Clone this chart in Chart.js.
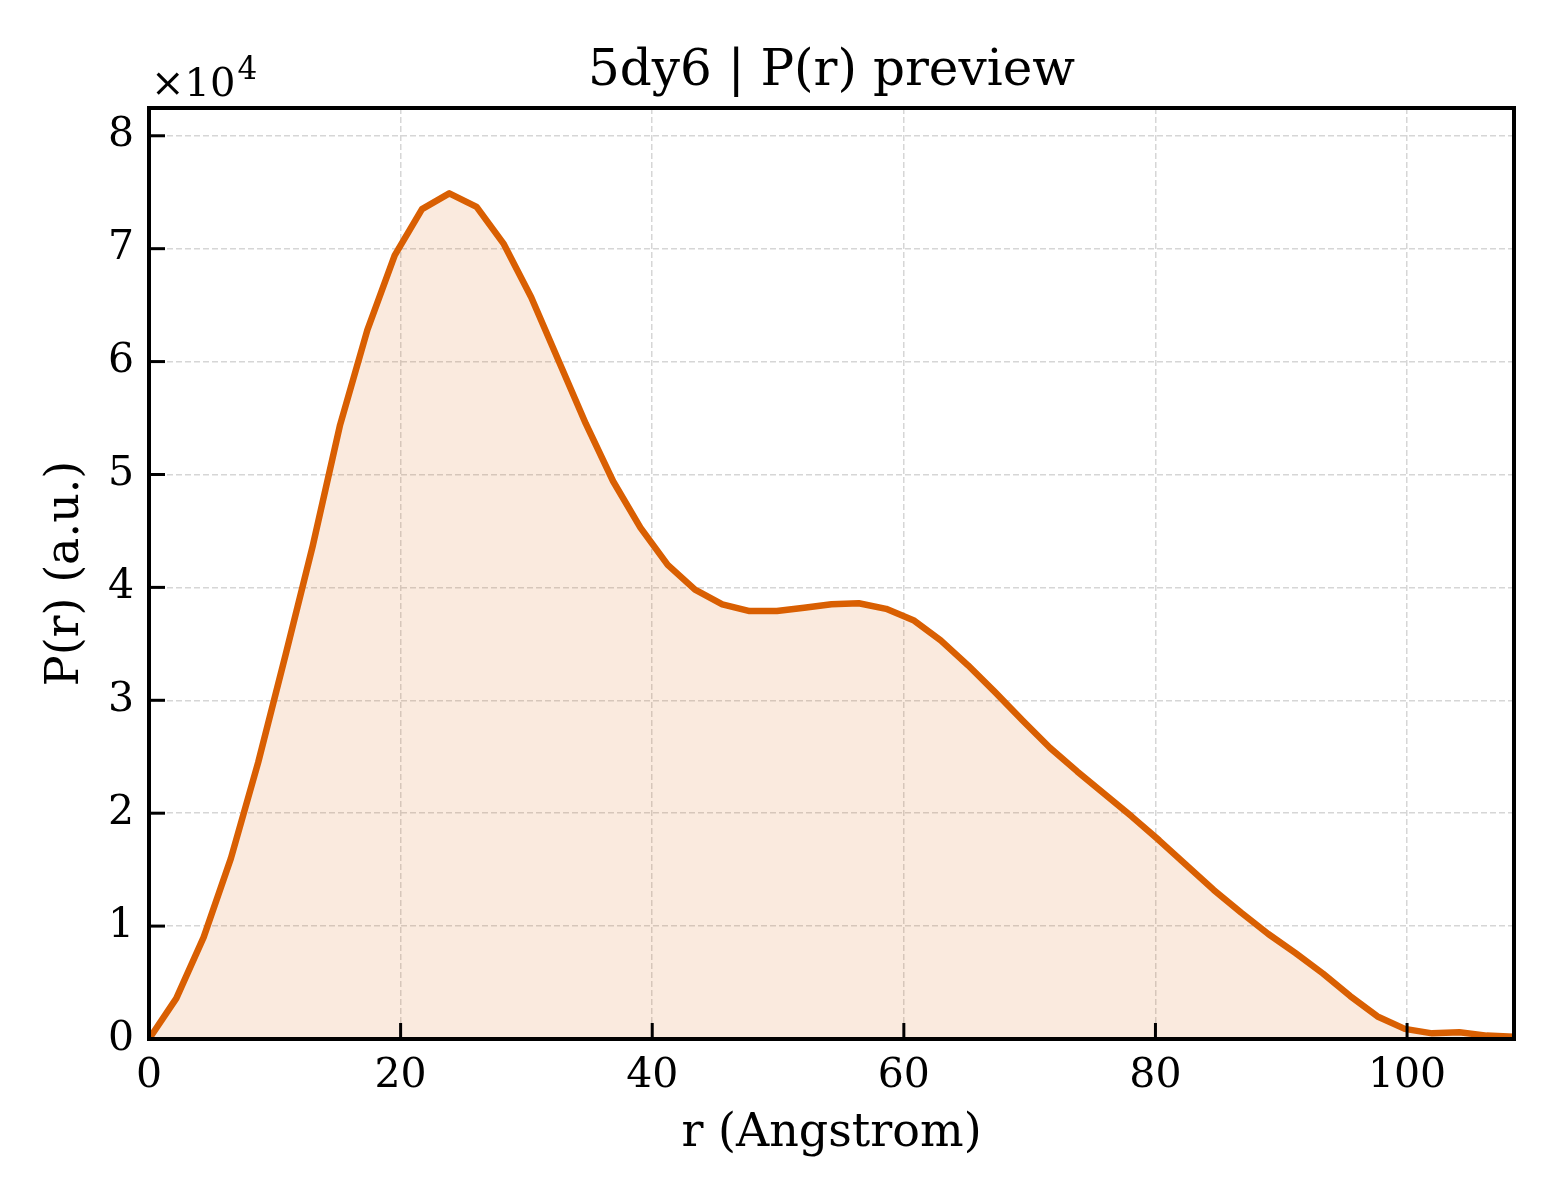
<!DOCTYPE html>
<html lang="en">
<head>
    <meta charset="UTF-8">
    <title>5dy6 | P(r) preview</title>
    <script src="https://cdn.jsdelivr.net/npm/chart.js"></script>
    <style>
        body {
            margin: 0;
            background-color: #ffffff;
        }
        #prChart {
            display: block;
        }
    </style>
</head>
<body>
    <canvas id="prChart" width="1560" height="1200"></canvas>

    <script>
        // r values (Angstrom) and P(r)
        const rValues = [
            0.00, 2.17, 4.34, 6.51, 8.68, 10.85, 13.02, 15.19, 17.36, 19.53,
            21.70, 23.87, 26.04, 28.21, 30.38, 32.55, 34.72, 36.89, 39.06, 41.23,
            43.40, 45.57, 47.74, 49.91, 52.08, 54.25, 56.42, 58.59, 60.76, 62.93,
            65.10, 67.27, 69.44, 71.61, 73.78, 75.95, 78.12, 80.29, 82.46, 84.63,
            86.80, 88.97, 91.14, 93.31, 95.48, 97.65, 99.82, 101.99, 104.16, 106.33,
            108.50
        ];
        const prValues = [
            0, 3600, 9000, 16000, 24500, 34000, 43700, 54400, 62800, 69400,
            73500, 74900, 73700, 70400, 65700, 60100, 54500, 49400, 45300, 42000,
            39800, 38500, 37900, 37900, 38200, 38500, 38600, 38100, 37100, 35300,
            33100, 30700, 28200, 25800, 23700, 21700, 19700, 17600, 15400, 13200,
            11200, 9300, 7600, 5800, 3800, 2000, 900, 500, 600, 300,
            200
        ];
        const xTicks = [0, 20, 40, 60, 80, 100];
        const yTicks = [0, 10000, 20000, 30000, 40000, 50000, 60000, 70000, 80000];
        const chartTitle = '5dy6 | P(r) preview';

        const serif = "'DejaVu Serif', serif";
        const lineColor = '#d95f02';

        // title over the plot area, frame, inward tick marks and the x10^4 offset label
        const framePlugin = {
            id: 'frame',
            afterDraw(chart) {
                const ctx = chart.ctx;
                const area = chart.chartArea;
                const xs = chart.scales.x;
                const ys = chart.scales.y;
                ctx.save();
                ctx.strokeStyle = '#000000';
                ctx.lineWidth = 3;
                xTicks.forEach(v => {
                    const px = xs.getPixelForValue(v);
                    ctx.beginPath();
                    ctx.moveTo(px, area.bottom);
                    ctx.lineTo(px, area.bottom - 16);
                    ctx.stroke();
                });
                yTicks.forEach(v => {
                    const py = ys.getPixelForValue(v);
                    ctx.beginPath();
                    ctx.moveTo(area.left, py);
                    ctx.lineTo(area.left + 16, py);
                    ctx.stroke();
                });
                ctx.lineWidth = 4;
                ctx.strokeRect(area.left, area.top, area.right - area.left, area.bottom - area.top);

                ctx.fillStyle = '#000000';
                ctx.textBaseline = 'alphabetic';
                ctx.textAlign = 'center';
                ctx.font = '50px ' + serif;
                ctx.fillText(chartTitle, (area.left + area.right) / 2, 85);

                ctx.textAlign = 'left';
                ctx.font = '40px ' + serif;
                ctx.fillText('\u00d710', area.left + 2, 96);
                const w = ctx.measureText('\u00d710').width;
                ctx.font = '31px ' + serif;
                ctx.fillText('4', area.left + 4 + w, 79);
                ctx.restore();
            }
        };

        const points = rValues.map((r, i) => ({ x: r, y: prValues[i] }));

        new Chart(document.getElementById('prChart').getContext('2d'), {
            type: 'line',
            data: {
                datasets: [{
                    label: 'P(r)',
                    data: points,
                    borderColor: lineColor,
                    backgroundColor: 'rgba(217, 95, 2, 0.13)',
                    borderWidth: 6.5,
                    borderJoinStyle: 'round',
                    pointRadius: 0,
                    fill: 'origin',
                    tension: 0
                }]
            },
            options: {
                responsive: false,
                animation: false,
                devicePixelRatio: 1,
                layout: {
                    padding: { left: 0, right: 46, top: 108, bottom: 0 }
                },
                plugins: {
                    legend: { display: false },
                    tooltip: { enabled: false },
                    title: { display: false }
                },
                scales: {
                    x: {
                        type: 'linear',
                        min: 0,
                        max: 108.5,
                        afterBuildTicks(scale) {
                            scale.ticks = xTicks.map(v => ({ value: v }));
                        },
                        afterFit(scale) {
                            scale.height = 161;
                        },
                        grid: {
                            color: '#d6d6d6',
                            lineWidth: 1.5,
                            drawTicks: false
                        },
                        border: { display: false, dash: [6, 3] },
                        ticks: {
                            color: '#000000',
                            font: { family: serif, size: 41 },
                            padding: 13,
                            maxRotation: 0
                        },
                        title: {
                            display: true,
                            text: 'r (Angstrom)',
                            color: '#000000',
                            font: { family: serif, size: 46 },
                            padding: { top: 0, bottom: 38 }
                        }
                    },
                    y: {
                        type: 'linear',
                        min: 0,
                        max: 82460,
                        afterBuildTicks(scale) {
                            scale.ticks = yTicks.map(v => ({ value: v }));
                        },
                        afterFit(scale) {
                            scale.width = 149;
                        },
                        grid: {
                            color: '#d6d6d6',
                            lineWidth: 1.5,
                            drawTicks: false
                        },
                        border: { display: false, dash: [6, 3] },
                        ticks: {
                            color: '#000000',
                            font: { family: serif, size: 41 },
                            padding: 15,
                            callback: v => String(v / 10000)
                        },
                        title: {
                            display: true,
                            text: 'P(r) (a.u.)',
                            color: '#000000',
                            font: { family: serif, size: 46 },
                            padding: { top: 38, bottom: 0 }
                        }
                    }
                }
            },
            plugins: [framePlugin]
        });
    </script>
</body>
</html>
